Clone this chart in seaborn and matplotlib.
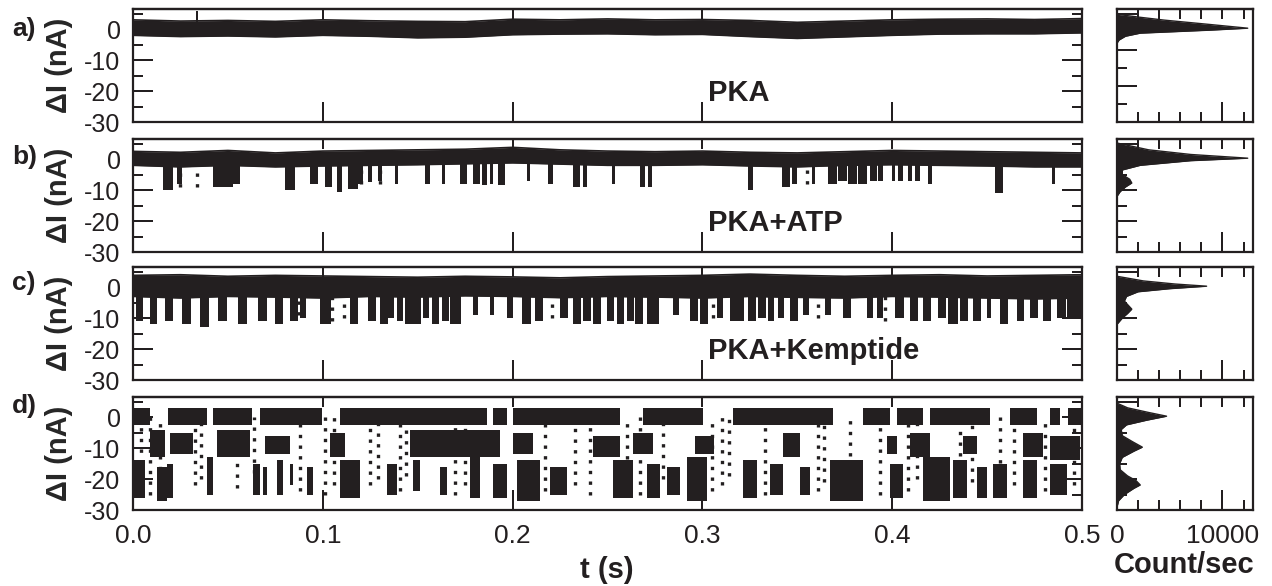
import numpy as np
import matplotlib
matplotlib.use("Agg")
import matplotlib.pyplot as plt
import seaborn as sns

# ------------------------------------------------------------------ data
panel_letters = ["a)", "b)", "c)", "d)"]
panel_names = ["PKA", "PKA+ATP", "PKA+Kemptide", ""]
x_ticks = [0.0, 0.1, 0.2, 0.3, 0.4, 0.5]
x_tick_labels = ["0.0", "0.1", "0.2", "0.3", "0.4", "0.5"]
y_major = [0, -10, -20, -30]
y_minor = [5, -5, -15, -25]
y_tick_labels = ["0", "-10", "-20", "-30"]
hist_x_major = [0, 10000]
hist_x_minor = [2000, 4000, 6000, 8000, 12000]
hist_x_labels = ["0", "10000"]

# baseline envelope (nA) read every 25 ms
t_grid = [0.0, 0.025, 0.05, 0.075, 0.1, 0.125, 0.15, 0.175, 0.2, 0.225, 0.25,
          0.275, 0.3, 0.325, 0.35, 0.375, 0.4, 0.425, 0.45, 0.475, 0.5]
a_hi = [3.0, 2.6, 2.8, 2.5, 3.0, 2.7, 2.5, 2.4, 3.2, 3.0, 3.3, 3.0, 3.1, 2.8, 2.2, 2.6, 3.0, 3.2, 3.3, 3.1, 3.4]
a_lo = [-2.0, -2.4, -2.2, -2.5, -2.0, -2.3, -2.8, -2.6, -1.8, -1.6, -1.5, -1.8, -1.7, -2.4, -3.0, -2.5, -2.0, -1.6, -1.5, -1.5, -1.2]
a_spike_t = [0.0337]
a_spike_v = [6.0]

b_hi = [2.5, 2.2, 2.8, 2.0, 2.6, 2.8, 3.0, 3.2, 3.8, 3.0, 2.6, 2.4, 2.6, 2.2, 2.0, 2.4, 2.8, 2.6, 2.4, 2.2, 2.0]
b_lo = [-2.0, -2.5, -2.0, -2.5, -2.2, -2.0, -1.8, -1.5, -1.2, -1.6, -2.0, -2.0, -1.8, -2.2, -2.5, -2.0, -1.8, -2.0, -2.2, -2.5, -2.5]
b_ev_start = [0.0158, 0.0232, 0.0422, 0.0527, 0.0801, 0.0933, 0.1012, 0.1075, 0.1133, 0.1186,
              0.1238, 0.1291, 0.1381, 0.1539, 0.1628, 0.1723, 0.1792, 0.1839, 0.1881, 0.1924,
              0.2076, 0.2187, 0.2318, 0.2371, 0.2524, 0.2671, 0.2714, 0.3241, 0.3420, 0.3472,
              0.3578, 0.3662, 0.3715, 0.3767, 0.3820, 0.3884, 0.3925, 0.3999, 0.4031, 0.4083,
              0.4120, 0.4189, 0.4542, 0.4843]
b_ev_end = [0.0211, 0.0258, 0.0527, 0.0564, 0.0854, 0.0975, 0.1049, 0.1101, 0.1186, 0.1212,
            0.1259, 0.1312, 0.1396, 0.1565, 0.1644, 0.1760, 0.1829, 0.1866, 0.1897, 0.1960,
            0.2092, 0.2213, 0.2355, 0.2392, 0.2540, 0.2698, 0.2735, 0.3267, 0.3462, 0.3498,
            0.3593, 0.3709, 0.3762, 0.3815, 0.3867, 0.3920, 0.3952, 0.4015, 0.4057, 0.4104,
            0.4146, 0.4210, 0.4584, 0.4858]
b_ev_level = [-10, -8, -9, -8, -10, -8, -9, -10.5, -9.5, -8,
              -7.5, -7, -8, -8, -8, -8, -8, -8.5, -8, -8.5,
              -7, -8, -9, -9, -8, -9, -9, -10, -9, -8,
              -8, -8, -7, -8, -8, -7, -7, -7, -7, -7,
              -7, -8, -11, -8]
b_dot_t = [0.0246, 0.0335, 0.1199, 0.1302, 0.3549]
b_dot_level = [-9, -9, -8, -8, -8]

c_hi = [3.8, 4.0, 3.5, 3.8, 3.6, 3.4, 3.2, 3.5, 3.3, 3.0, 3.4, 3.6, 3.8, 4.2, 3.8, 3.5, 3.8, 4.0, 3.6, 3.8, 4.0]
c_lo = [-3.0, -3.5, -3.0, -3.2, -3.5, -3.0, -3.2, -2.8, -3.0, -3.4, -3.0, -3.2, -3.5, -3.0, -3.3, -3.5, -3.0, -3.2, -3.5, -3.8, -3.5]
c_ev_start = [0.0016, 0.0090, 0.0169, 0.0258, 0.0353, 0.0448, 0.0553, 0.0659, 0.0748, 0.0827,
              0.0880, 0.0985, 0.1143, 0.1238, 0.1301, 0.1344, 0.1391, 0.1433, 0.1475, 0.1528,
              0.1575, 0.1628, 0.1670, 0.1791, 0.1881, 0.1970, 0.2050, 0.2118, 0.2250, 0.2318,
              0.2371, 0.2424, 0.2497, 0.2550, 0.2603, 0.2645, 0.2708, 0.2845, 0.2935, 0.2987,
              0.3077, 0.3145, 0.3188, 0.3240, 0.3293, 0.3346, 0.3398, 0.3462, 0.3530, 0.3646,
              0.3741, 0.3867, 0.3920, 0.4015, 0.4094, 0.4162, 0.4241, 0.4294, 0.4357, 0.4426,
              0.4499, 0.4568, 0.4658, 0.4726, 0.4795, 0.4868, 0.4921]
c_ev_end = [0.0052, 0.0126, 0.0210, 0.0305, 0.0400, 0.0495, 0.0600, 0.0706, 0.0790, 0.0869,
            0.0911, 0.1043, 0.1185, 0.1280, 0.1343, 0.1375, 0.1422, 0.1475, 0.1517, 0.1559,
            0.1612, 0.1665, 0.1728, 0.1817, 0.1902, 0.2002, 0.2097, 0.2160, 0.2292, 0.2360,
            0.2413, 0.2465, 0.2534, 0.2587, 0.2639, 0.2687, 0.2771, 0.2876, 0.2977, 0.3029,
            0.3108, 0.3187, 0.3219, 0.3282, 0.3335, 0.3377, 0.3430, 0.3503, 0.3561, 0.3677,
            0.3783, 0.3899, 0.3951, 0.4062, 0.4136, 0.4204, 0.4283, 0.4346, 0.4399, 0.4468,
            0.4520, 0.4610, 0.4694, 0.4768, 0.4836, 0.4915, 0.4994]
c_ev_level = [-11, -12, -11, -12, -13, -11, -12, -11, -12, -11,
              -10, -12, -12, -11, -12, -10, -11, -12, -12, -10,
              -12, -11, -12, -9, -9, -10, -12, -11, -10, -12,
              -11, -12, -11, -12, -11, -12, -12, -9, -11, -12,
              -10, -11, -11, -11, -10, -11, -10, -11, -9, -9,
              -10, -10, -10, -10, -11, -11, -10, -12, -11, -11,
              -10, -12, -11, -10, -11, -10, -10]
c_dot_t = [0.0869, 0.1051, 0.1110, 0.2210, 0.3055, 0.3608, 0.3960]
c_dot_level = [-9, -11, -10, -10, -10, -10, -11]

# panel d: open level, first and second blockade levels
d_base_band = [-2.6, 2.8]
d_base_start = [0.0000, 0.0184, 0.0422, 0.0669, 0.1091, 0.1897, 0.2002, 0.2687, 0.3161, 0.3846,
                0.4025, 0.4199, 0.4621, 0.4831, 0.4926]
d_base_end = [0.0090, 0.0390, 0.0627, 0.0996, 0.1865, 0.1970, 0.2566, 0.3003, 0.3688, 0.3988,
              0.4162, 0.4515, 0.4763, 0.4884, 0.5000]
d_mid_start = [0.0090, 0.0195, 0.0443, 0.0695, 0.1038, 0.1459, 0.2002, 0.2424, 0.2634, 0.2961,
               0.3425, 0.3973, 0.4094, 0.4373, 0.4689, 0.4831]
d_mid_end = [0.0169, 0.0316, 0.0616, 0.0827, 0.1117, 0.1934, 0.2108, 0.2566, 0.2740, 0.3060,
             0.3514, 0.4025, 0.4199, 0.4447, 0.4795, 0.4989]
d_mid_top = [-4, -5, -4, -6, -5, -4, -5, -6, -5, -6, -5, -6, -5, -6, -5, -6]
d_mid_bot = [-13, -12, -13, -12, -13, -13, -12, -13, -12, -12, -13, -12, -13, -12, -13, -14]
d_deep_start = [0.0000, 0.0126, 0.0179, 0.0390, 0.0632, 0.0685, 0.0759, 0.0827, 0.0917, 0.1091,
                0.1338, 0.1475, 0.1618, 0.1776, 0.1897, 0.2023, 0.2197, 0.2529, 0.2708, 0.2813,
                0.2919, 0.3214, 0.3356, 0.3514, 0.3672, 0.3988, 0.4162, 0.4320, 0.4447, 0.4531,
                0.4689, 0.4831]
d_deep_end = [0.0063, 0.0179, 0.0211, 0.0422, 0.0669, 0.0706, 0.0790, 0.0843, 0.0948, 0.1196,
              0.1391, 0.1512, 0.1654, 0.1828, 0.1970, 0.2144, 0.2287, 0.2634, 0.2777, 0.2882,
              0.3024, 0.3288, 0.3425, 0.3567, 0.3846, 0.4057, 0.4305, 0.4394, 0.4499, 0.4605,
              0.4763, 0.4921]
d_deep_top = [-14, -16, -15, -13, -15, -16, -14, -15, -16, -14,
              -15, -14, -16, -13, -15, -14, -16, -14, -15, -16,
              -13, -14, -15, -16, -14, -15, -13, -14, -16, -15,
              -14, -15]
d_deep_level = [-26, -27, -26, -25, -25, -25, -25, -22, -25, -26,
                -25, -24, -25, -26, -26, -27, -25, -26, -26, -25,
                -27, -26, -25, -25, -27, -26, -27, -26, -26, -26,
                -26, -25]
d_dot_t = [0.0042, 0.0090, 0.0142, 0.0327, 0.0360, 0.0548, 0.0640, 0.0880, 0.1012, 0.1060,
           0.1249, 0.1290, 0.1407, 0.1440, 0.1697, 0.1750, 0.2171, 0.2329, 0.2408, 0.2603,
           0.2671, 0.2790, 0.3051, 0.3103, 0.3140, 0.3330, 0.3609, 0.3640, 0.3778, 0.3936,
           0.4083, 0.4130, 0.4357, 0.4420, 0.4568, 0.4640, 0.4805, 0.4960]
d_dot_level = [-25, -25, -24, -22, -20, -23, -18, -24, -25, -22,
               -22, -20, -24, -19, -25, -22, -24, -22, -25, -24,
               -25, -20, -24, -22, -19, -25, -24, -21, -23, -25,
               -24, -20, -23, -21, -25, -22, -24, -22]

# all-points histograms (level in nA, count/sec)
a_h_lev = [6.5, 4.8, 3.9, 2.9, 1.6, 0.3, -0.3, -1.3, -2.3, -3.5, -4.5, -30]
a_h_cnt = [0, 0, 2000, 4500, 8500, 12400, 9000, 2200, 800, 200, 0, 0]
b_h_lev = [6.5, 5.2, 3.0, 1.5, 0.3, -0.5, -2.0, -3.5, -5.0, -6.5, -7.7, -9.0, -10.5, -12.0, -30]
b_h_cnt = [0, 0, 3000, 7000, 12400, 7000, 2200, 500, 500, 1200, 1400, 800, 300, 0, 0]
c_h_lev = [6.5, 3.5, 2.0, 1.0, 0.3, -0.5, -1.5, -3.0, -4.5, -6.0, -7.1, -8.5, -10.0, -12.0, -30]
c_h_cnt = [0, 0, 2500, 5500, 8500, 5000, 2000, 900, 700, 1100, 1400, 1000, 500, 0, 0]
d_h_lev = [6.5, 4.5, 3.0, 1.5, 0.3, -1.0, -2.5, -4.0, -6.0, -8.0, -9.7, -11.0, -13.0, -15.0,
           -17.0, -19.0, -20.5, -21.9, -23.0, -25.0, -27.0, -29.0, -30]
d_h_cnt = [0, 0, 1000, 3000, 4700, 2800, 900, 400, 500, 1500, 2400, 1600, 500, 250,
           300, 1000, 1800, 2200, 1600, 700, 150, 0, 0]
hist_y_major = [[4.8, -6.8, -18.4], [5, -10, -20], [5, -10, -20], [5, -10, -20]]
hist_y_minor = [[-12.6, -24.2], [-5, -15, -25], [-5, -15, -25], [-5, -15, -25]]

# ------------------------------------------------------------------ style
sns.set_theme(style="ticks")
plt.rcParams["font.family"] = ["Liberation Sans", "DejaVu Sans"]
plt.rcParams["axes.unicode_minus"] = False
INK = "#231f20"
plt.rcParams["text.color"] = INK
plt.rcParams["xtick.color"] = INK
plt.rcParams["ytick.color"] = INK
plt.rcParams["axes.edgecolor"] = INK

W, H = 1272, 586
fig = plt.figure(figsize=(W / 100, H / 100), dpi=100)

tops = [9, 139, 267, 397]
box_h = 113
main_l, main_w = 133, 949
hist_l, hist_w = 1117, 136
LW = 1.6
TW = 1.44
LONG, SHORT = 14.4, 7.2


def frac(l, top, w, h):
    return [l / W, 1 - (top + h) / H, w / W, h / H]


def style_main(ax, show_labels):
    ax.set_xlim(0, 0.5)
    ax.set_ylim(-30, 6.5)
    ax.set_xticks(x_ticks)
    ax.set_xticklabels(x_tick_labels)
    ax.set_yticks(y_major)
    ax.set_yticklabels(y_tick_labels)
    ax.set_yticks(y_minor, minor=True)
    ax.tick_params(axis="y", which="both", direction="in", left=True, right=True, width=TW)
    ax.tick_params(axis="y", which="major", length=LONG, labelsize=18, pad=9)
    ax.tick_params(axis="y", which="minor", length=SHORT)
    ax.tick_params(axis="x", which="major", direction="in", bottom=True, top=False,
                   length=LONG, width=TW, labelsize=19, pad=10, labelbottom=show_labels)
    sec = ax.secondary_xaxis("top")
    sec.set_xticks(x_ticks)
    sec.tick_params(direction="in", length=SHORT, width=TW, labeltop=False)
    sec.spines["top"].set_linewidth(LW)
    for s in ax.spines.values():
        s.set_linewidth(LW)
    ax.set_xlabel("")
    ax.set_ylabel("ΔI (nA)", fontsize=21, fontweight="bold")
    ax.yaxis.set_label_coords(-0.063, 0.5)


def style_hist(hx, i, show_labels):
    hx.set_xlim(0, 12900)
    hx.set_ylim(-30, 6.5)
    hx.set_xticks(hist_x_major)
    hx.set_xticklabels(hist_x_labels)
    hx.set_xticks(hist_x_minor, minor=True)
    hx.tick_params(axis="x", which="both", direction="in", bottom=True, top=False, width=TW)
    hx.tick_params(axis="x", which="major", length=LONG, labelsize=19, pad=10,
                   labelbottom=show_labels)
    hx.tick_params(axis="x", which="minor", length=SHORT)
    sec = hx.secondary_xaxis("top")
    sec.set_xticks(hist_x_major + hist_x_minor)
    sec.tick_params(direction="in", length=SHORT, width=TW, labeltop=False)
    sec.spines["top"].set_linewidth(LW)
    hx.set_yticks(hist_y_major[i])
    hx.set_yticks(hist_y_minor[i], minor=True)
    hx.tick_params(axis="y", which="both", direction="in", left=True, right=False,
                   width=TW, labelleft=False)
    hx.tick_params(axis="y", which="major", length=LONG)
    hx.tick_params(axis="y", which="minor", length=SHORT)
    for s in hx.spines.values():
        s.set_linewidth(LW)
    hx.set_xlabel("")
    hx.set_ylabel("")


def draw_band(ax, hi, lo):
    ax.fill_between(t_grid, lo, hi, color=INK, lw=0, zorder=2)
    sns.lineplot(x=t_grid, y=hi, ax=ax, color=INK, lw=1.2, estimator=None, sort=False, zorder=2)
    sns.lineplot(x=t_grid, y=lo, ax=ax, color=INK, lw=1.2, estimator=None, sort=False, zorder=2)


def draw_events(ax, t0, t1, lev):
    widths = np.subtract(t1, t0)
    ax.bar(t0, lev, width=widths, bottom=0, align="edge", color=INK, lw=0, zorder=2)


def draw_dots(ax, t, lev, top=0):
    ax.vlines(t, lev, top, colors=INK, linestyles=(0, (1.0, 2.2)), lw=2.4, zorder=2)


hist_data = [(a_h_lev, a_h_cnt), (b_h_lev, b_h_cnt), (c_h_lev, c_h_cnt), (d_h_lev, d_h_cnt)]
letter_y = [29, 157, 283, 406]

for i in range(4):
    ax = fig.add_axes(frac(main_l, tops[i], main_w, box_h))
    hx = fig.add_axes(frac(hist_l, tops[i], hist_w, box_h))

    if i == 0:
        draw_band(ax, a_hi, a_lo)
        ax.bar(a_spike_t, a_spike_v, width=0.0012, bottom=0, align="center", color=INK, lw=0)
    elif i == 1:
        draw_band(ax, b_hi, b_lo)
        draw_events(ax, b_ev_start, b_ev_end, b_ev_level)
        draw_dots(ax, b_dot_t, b_dot_level)
    elif i == 2:
        draw_band(ax, c_hi, c_lo)
        draw_events(ax, c_ev_start, c_ev_end, c_ev_level)
        draw_dots(ax, c_dot_t, c_dot_level)
    else:
        ax.bar(d_base_start, d_base_band[1] - d_base_band[0],
               width=np.subtract(d_base_end, d_base_start), bottom=d_base_band[0],
               align="edge", color=INK, lw=0)
        ax.bar(d_mid_start, np.subtract(d_mid_bot, d_mid_top),
               width=np.subtract(d_mid_end, d_mid_start), bottom=d_mid_top,
               align="edge", color=INK, lw=0)
        ax.bar(d_deep_start, np.subtract(d_deep_level, d_deep_top),
               width=np.subtract(d_deep_end, d_deep_start), bottom=d_deep_top,
               align="edge", color=INK, lw=0)
        draw_dots(ax, d_dot_t, d_dot_level)

    if panel_names[i]:
        ax.text(0.303, -20.5, panel_names[i], fontsize=21, fontweight="bold",
                ha="left", va="center", color=INK)
    style_main(ax, i == 3)

    lev, cnt = hist_data[i]
    hx.fill_betweenx(lev, 0, cnt, color=INK, lw=0)
    sns.lineplot(x=cnt, y=lev, ax=hx, color=INK, lw=1.0, estimator=None, sort=False, orient="y")
    style_hist(hx, i, i == 3)

    fig.text(12 / W, 1 - letter_y[i] / H, panel_letters[i], fontsize=19,
             fontweight="bold", ha="left", va="center")

fig.text(607 / W, 1 - 570 / H, "t (s)", fontsize=21, fontweight="bold", ha="center", va="center")
fig.text(1184 / W, 1 - 565 / H, "Count/sec", fontsize=21, fontweight="bold", ha="center", va="center")

fig.savefig("out.png", dpi=100, facecolor="white")
